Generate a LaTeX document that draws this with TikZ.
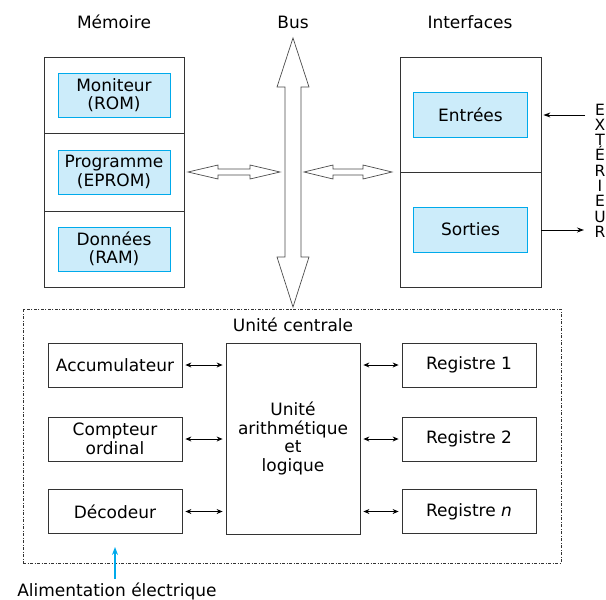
\documentclass[tikz,border=0pt]{standalone}
\usepackage{fontspec}
\setmainfont{DejaVu Sans}
\usetikzlibrary{arrows.meta, positioning, calc}
\definecolor{cyanfill}{RGB}{204,236,250}
\definecolor{cyanline}{RGB}{0,170,235}

\begin{document}
\begin{tikzpicture}[x=1pt, y=-1pt, font=\fontsize{17}{18.5}\selectfont,
  box/.style={draw=black!80, line width=0.8pt, minimum width=134pt, minimum height=44pt, inner sep=0pt, align=center},
  cbox/.style={draw=cyanline, fill=cyanfill, line width=0.8pt, minimum width=112pt, minimum height=44pt, inner sep=0pt, align=center},
  part/.style={draw=black!80, line width=0.8pt, inner sep=0pt},
  link/.style={{Stealth[length=6pt,width=5pt]}-{Stealth[length=6pt,width=5pt]}, line width=0.9pt, shorten >=3pt, shorten <=3pt},
  hollow/.style={draw=black!70, line width=0.7pt, fill=white}]
\useasboundingbox (0,0) rectangle (606,600);

% Titles
\node (tmem) at (114,22) {Mémoire};
\node (tbus) at (293,22) {Bus};
\node (tint) at (470,22) {Interfaces};

% Memory
\node[part, minimum width=140pt, minimum height=76pt] (mem1) at (114,95) {};
\node[part, minimum width=140pt, minimum height=78pt] (mem2) at (114,172) {};
\node[part, minimum width=140pt, minimum height=76pt] (mem3) at (114,249) {};
\node[cbox] (mon) at (mem1) {Moniteur\\(ROM)};
\node[cbox] (prog) at (mem2) {Programme\\(EPROM)};
\node[cbox] (ram) at (mem3) {Données\\(RAM)};

% Interfaces
\node[part, minimum width=141pt, minimum height=115pt] (inp) at (470.5,114.5) {};
\node[part, minimum width=141pt, minimum height=115pt] (outp) at (470.5,229.5) {};
\node[cbox, minimum width=114pt, minimum height=45pt] (ent) at (inp) {Entrées};
\node[cbox, minimum width=114pt, minimum height=45pt] (sor) at (outp) {Sorties};

% Bus and links
\draw[hollow] (293,38) -- (309,87) -- (301,87) -- (301,257) -- (309,257) -- (293,307)
  -- (277,257) -- (285,257) -- (285,87) -- (277,87) -- cycle;
\draw[hollow] (188,172) -- (218,165) -- (218,169) -- (250,169) -- (250,165) -- (280,172)
  -- (250,179) -- (250,175) -- (218,175) -- (218,179) -- cycle;
\draw[hollow] (304,172) -- (333,165) -- (333,169) -- (363,169) -- (363,165) -- (392,172)
  -- (363,179) -- (363,175) -- (333,175) -- (333,179) -- cycle;

% Exterior
\foreach \c [count=\i from 0] in {E,X,T,É,R,I,E,U,R}
  \node[font=\fontsize{15.5}{15.5}\selectfont, inner sep=0pt, anchor=base] (ext\i) at (600,115+15.3*\i) {\c};
\coordinate (extin) at (585,115);
\coordinate (extout) at (584,230);
\draw[-{Stealth[length=7pt,width=5pt]}, line width=0.9pt, shorten >=2pt] (extin) -- (inp.east |- extin);
\draw[-{Stealth[length=7pt,width=5pt]}, line width=0.9pt] (outp.east |- extout) -- (extout);

% Central unit
\node[draw=black!80, line width=0.7pt, dash pattern={on 3pt off 1.5pt on 1pt off 1.5pt},
  minimum width=538pt, minimum height=254pt, inner sep=0pt] (uc) at (292,436) {};
\node (tuc) at (293,325) {Unité centrale};
\node[box] (acc) at (115,365) {Accumulateur};
\node[box] (cpt) at (115,439) {Compteur\\ordinal};
\node[box] (dec) at (115,511.5) {Décodeur};
\node[box, minimum height=191pt] (alu) at (293,438.5) {Unité\\arithmétique\\et\\logique};
\node[box] (reg1) at (469,365) {Registre 1};
\node[box] (reg2) at (469,439) {Registre 2};
\node[box] (regn) at (469,511.5) {Registre \textit{n}};
\foreach \b in {acc,cpt,dec}
  \draw[link] (\b.east) -- (\b.east -| alu.west);
\foreach \b in {reg1,reg2,regn}
  \draw[link] (\b.west -| alu.east) -- (\b.west);

% Power supply
\node[anchor=base] (alim) at (117,596) {Alimentation électrique};
\coordinate (pin) at (115,547);
\draw[cyanline, line width=1.5pt, -{Stealth[length=8pt,width=6pt]}] (alim.north -| pin) -- (pin);
\end{tikzpicture}
\end{document}
